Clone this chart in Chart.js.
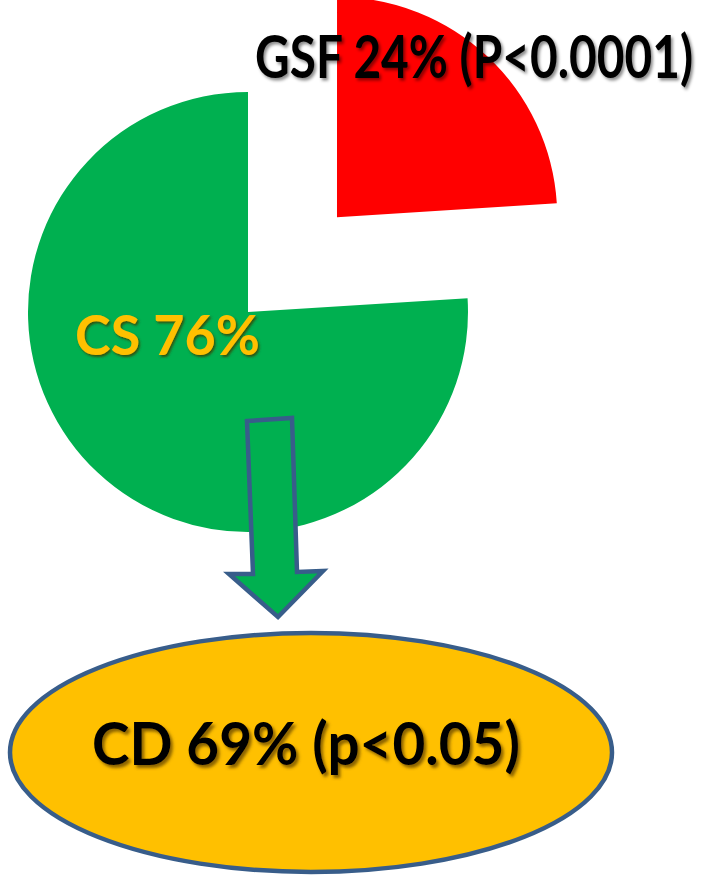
<!DOCTYPE html>
<html>
<head>
<meta charset="utf-8">
<script src="https://cdn.jsdelivr.net/npm/chart.js@4.4.1/dist/chart.umd.min.js"></script>
<style>
  html, body { margin: 0; padding: 0; background: #fff; }
  #wrap { position: relative; width: 706px; height: 880px; overflow: hidden; }
  #pie, #over { position: absolute; left: 0; top: 0; }
  #over text { font-family: Lato, "Open Sans", sans-serif; font-weight: 700; }
</style>
</head>
<body>
<div id="wrap">
  <canvas id="pie" width="706" height="880"></canvas>
  <svg id="over" width="706" height="880" xmlns="http://www.w3.org/2000/svg">
    <defs>
      <filter id="shadeDark" x="-5%" y="-30%" width="115%" height="170%">
        <feDropShadow dx="2" dy="2.5" stdDeviation="1.4" flood-color="#000" flood-opacity="0.45"/>
      </filter>
      <filter id="shadeYellow" x="-5%" y="-30%" width="115%" height="170%">
        <feDropShadow dx="1.5" dy="2" stdDeviation="1.2" flood-color="#3a3a00" flood-opacity="0.8"/>
      </filter>
      <filter id="shadeOval" x="-5%" y="-30%" width="115%" height="170%">
        <feDropShadow dx="2.5" dy="3" stdDeviation="1.6" flood-color="#5a3c00" flood-opacity="0.7"/>
      </filter>
    </defs>

    <!-- slice labels -->
    <text id="gsfLabel" x="255" y="78" font-size="60" fill="#000" textLength="438" lengthAdjust="spacingAndGlyphs" filter="url(#shadeDark)"></text>
    <text id="csLabel" x="75" y="355" font-size="56" fill="#FFC000" textLength="185" lengthAdjust="spacingAndGlyphs" filter="url(#shadeYellow)"></text>

    <!-- arrow down to the subgroup -->
    <polygon points="247,421 292,418 297,572 323,571 278,617 229,574 253,574"
             fill="#00B050" stroke="#385D8A" stroke-width="4.5" stroke-linejoin="miter"/>

    <!-- subgroup oval -->
    <ellipse cx="311" cy="752.5" rx="301" ry="119.5" fill="#FFC000" stroke="#385D8A" stroke-width="4.5"/>
    <text id="cdLabel" x="92" y="765" font-size="60" fill="#000" textLength="428" lengthAdjust="spacingAndGlyphs" filter="url(#shadeOval)"></text>
  </svg>
</div>
<script>
// slices of the pie, drawn clockwise from 12 o'clock
var sliceLabels = ['GSF', 'CS'];
var sliceValues = [24, 76];
var sliceP = ['P<0.0001', ''];
var sliceColors = ['#FF0000', '#00B050'];
var sliceOffsets = [520, 0];   // GSF pulled out of the pie

// share of CS that is CD
var subLabel = 'CD';
var subValue = 69;
var subP = 'p<0.05';

new Chart(document.getElementById('pie'), {
  type: 'pie',
  data: {
    labels: sliceLabels,
    datasets: [{
      data: sliceValues,
      backgroundColor: sliceColors,
      borderWidth: 0,
      offset: sliceOffsets,
      radius: 220,
      cutout: '0%',   // a plain 0 turns into 0/0 once the offset eats the area
      clip: false
    }]
  },
  options: {
    responsive: false,
    animation: false,
    events: [],
    // centre of the pie ends up at (248, 312)
    layout: { padding: { left: 0, top: 0, right: 210, bottom: 256 } },
    plugins: {
      legend: { display: false },
      tooltip: { enabled: false }
    }
  }
});

document.getElementById('gsfLabel').textContent =
  sliceLabels[0] + ' ' + sliceValues[0] + '% (' + sliceP[0] + ')';
document.getElementById('csLabel').textContent =
  sliceLabels[1] + ' ' + sliceValues[1] + '%';
document.getElementById('cdLabel').textContent =
  subLabel + ' ' + subValue + '% (' + subP + ')';
</script>
</body>
</html>
